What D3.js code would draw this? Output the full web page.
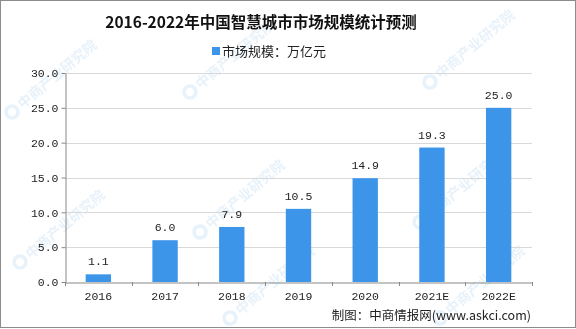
<!DOCTYPE html>
<html><head><meta charset="utf-8">
<script src="https://cdn.jsdelivr.net/npm/d3@7"></script>
<style>
body{margin:0;background:#fff;}
svg{display:block;}
</style></head>
<body>
<svg id="chart" width="576" height="329"></svg>
<script>
const categories = ["2016","2017","2018","2019","2020","2021E","2022E"];
const marketSize = [1.1, 6.0, 7.9, 10.5, 14.9, 19.3, 25.0];
const yTicks = [0, 5, 10, 15, 20, 25, 30];
const titleText = "2016-2022年中国智慧城市市场规模统计预测";
const legendText = "市场规模：万亿元";
const sourceText = "制图：中商情报网(www.askci.com)";

const W = 576, H = 329;
const svg = d3.select("#chart");
const cjk = "'Noto Sans CJK SC', 'Noto Sans', sans-serif";
const mono = "'Liberation Mono', 'DejaVu Sans Mono', monospace";

svg.append("rect").attr("x",0.5).attr("y",0.5).attr("width",W-1).attr("height",H-2)
  .attr("fill","#fff").attr("stroke","#8c8c8c");

// faint diagonal watermarks, kept inside the frame
const wm = svg.append("g").attr("opacity",0.12);
const wmPos = [[12,112],[190,92],[430,82],[20,262],[200,232],[420,222],[230,318],[440,318]];
wmPos.forEach(([x,y])=>{
  const g = wm.append("g").attr("transform",`translate(${x},${y}) rotate(-40)`);
  g.append("circle").attr("cx",0).attr("cy",0).attr("r",6).attr("fill","none")
    .attr("stroke","#3a8fd8").attr("stroke-width",3.5);
  g.append("text").attr("x",10).attr("y",5).attr("font-family",cjk).attr("font-size",14)
    .attr("font-weight","bold").attr("fill","#3a8fd8").text("中商产业研究院");
});

const m = {left:65, right:44, top:73, bottom:47};
const x = d3.scaleBand().domain(categories).range([m.left, W-m.right]).paddingInner(0.62).paddingOuter(0.31);
const xOuter = d3.scaleBand().domain(categories).range([m.left, W-m.right]);
const y = d3.scaleLinear().domain([0,30]).range([H-m.bottom, m.top]);

// gridlines
svg.append("g").selectAll("line").data(yTicks.filter(d=>d>0)).join("line")
  .attr("x1",m.left).attr("x2",W-m.right)
  .attr("y1",d=>Math.round(y(d))+0.5).attr("y2",d=>Math.round(y(d))+0.5)
  .attr("stroke","#d9d9d9");

// y axis
const yAxis = svg.append("g").attr("transform",`translate(${m.left+0.5},0)`)
  .call(d3.axisLeft(y).tickValues(yTicks).tickSize(4).tickFormat(d3.format(".1f")).tickSizeOuter(0));
yAxis.select(".domain").attr("stroke","#888");
yAxis.selectAll(".tick line").attr("stroke","#888");
yAxis.selectAll(".tick text").attr("font-family",mono).attr("font-size",11.5).attr("fill","#222").attr("x",-7);

// bars
svg.append("g").selectAll("rect").data(marketSize).join("rect")
  .attr("x",(d,i)=>x(categories[i])).attr("width",x.bandwidth())
  .attr("y",d=>y(d)).attr("height",d=>y(0)-y(d))
  .attr("fill","#3d95e9");

// value labels
svg.append("g").selectAll("text").data(marketSize).join("text")
  .attr("x",(d,i)=>x(categories[i])+x.bandwidth()/2).attr("y",d=>y(d)-9)
  .attr("text-anchor","middle").attr("font-family",mono).attr("font-size",11.5).attr("fill","#222")
  .text(d=>d.toFixed(1));

// x axis
const xAxis = svg.append("g").attr("transform",`translate(0,${y(0)+0.5})`)
  .call(d3.axisBottom(xOuter).tickSize(0).tickSizeOuter(0));
xAxis.select(".domain").attr("stroke","#888");
xAxis.selectAll(".tick text").attr("font-family",mono).attr("font-size",11.5).attr("fill","#222").attr("dy","1.3em");
// boundary ticks between categories
const bounds = categories.map(c=>xOuter(c)).concat([W-m.right]);
svg.append("g").selectAll("line").data(bounds).join("line")
  .attr("x1",d=>Math.round(d)+0.5).attr("x2",d=>Math.round(d)+0.5)
  .attr("y1",y(0)).attr("y2",y(0)+4).attr("stroke","#888");

// title
svg.append("text").attr("x",261).attr("y",28).attr("text-anchor","middle")
  .attr("font-family",cjk).attr("font-weight","bold").attr("font-size",15.5).attr("fill","#111")
  .text(titleText);

// legend
svg.append("rect").attr("x",212).attr("y",47).attr("width",8).attr("height",8).attr("fill","#3d95e9");
svg.append("text").attr("x",222).attr("y",56).attr("font-family",cjk).attr("font-size",13).attr("fill","#222")
  .text(legendText);

// source
svg.append("text").attr("x",531).attr("y",320).attr("text-anchor","end")
  .attr("font-family",cjk).attr("font-size",12.5).attr("fill","#222").text(sourceText);
</script>
</body></html>
